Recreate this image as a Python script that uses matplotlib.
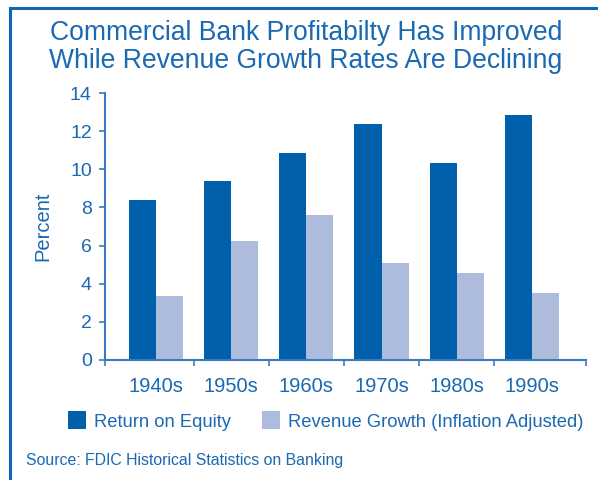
import matplotlib
matplotlib.use("Agg")
import matplotlib.pyplot as plt
from matplotlib.lines import Line2D
from matplotlib.patches import Patch
import numpy as np

plt.rcParams['font.family'] = ['Liberation Sans', 'DejaVu Sans']

categories = ["1940s", "1950s", "1960s", "1970s", "1980s", "1990s"]
roe = [8.4, 9.4, 10.85, 12.4, 10.35, 12.85]
revenue_growth = [3.35, 6.25, 7.6, 5.1, 4.55, 3.5]
series_names = ["Return on Equity", "Revenue Growth (Inflation Adjusted)"]
y_ticks = [0, 2, 4, 6, 8, 10, 12, 14]
title = "Commercial Bank Profitabilty Has Improved\nWhile Revenue Growth Rates Are Declining"
source = "Source: FDIC Historical Statistics on Banking"

TXT = "#1a69b2"
DARK = "#0060ab"
LIGHT = "#adbcdd"
AXC = "#3a7bbf"

fig = plt.figure(figsize=(5.98, 4.8), dpi=100)
ax = fig.add_axes([105/598, 120/480, 481/598, 267/480])

x = np.arange(len(categories))
w = 0.36
ax.bar(x - w/2, roe, width=w, color=DARK, label=series_names[0])
ax.bar(x + w/2, revenue_growth, width=w, color=LIGHT, label=series_names[1])

ax.set_xlim(-0.678, 5.72)
ax.set_ylim(0, 14)
ax.set_yticks(y_ticks)
ax.set_yticklabels([str(v) for v in y_ticks], fontsize=14, color=TXT)
ax.set_xticks([-0.678, 0.5, 1.5, 2.5, 3.5, 4.5, 5.72])
ax.set_xticklabels([])
ax.set_xticks(x, minor=True)
ax.set_xticklabels(categories, minor=True, fontsize=14.5, color=TXT)
ax.tick_params(axis='x', which='minor', length=0, pad=12)
ax.tick_params(axis='x', which='major', length=4, width=1.2, color=AXC, direction='out')
ax.tick_params(axis='y', length=4.5, width=1.2, color=AXC, direction='out', pad=5)

for s in ['top', 'right']:
    ax.spines[s].set_visible(False)
for s in ['left', 'bottom']:
    ax.spines[s].set_color(AXC)
    ax.spines[s].set_linewidth(1.5)

ax.set_ylabel("Percent", fontsize=14.5, color=TXT, labelpad=13)

fig.text(306/598, 1 - 47/480, title, ha='center', va='center', fontsize=19.1,
         color=TXT, linespacing=1.12)

handles = [Patch(facecolor=DARK), Patch(facecolor=LIGHT)]
fig.legend(handles, series_names, loc='center', bbox_to_anchor=(326/598, 1 - 421/480),
           ncol=2, frameon=False, fontsize=13.2, labelcolor=TXT,
           handlelength=0.95, handleheight=1.1, handletextpad=0.45, columnspacing=1.7)

fig.text(26/598, 1 - 461/480, source, ha='left', va='center', fontsize=11.4, color=TXT)

# frame
fig.add_artist(Line2D([10/598, 10/598], [0, 1 - 8/480], transform=fig.transFigure,
                      color="#1166b0", lw=2.2))
fig.add_artist(Line2D([10/598, 1], [1 - 8/480, 1 - 8/480], transform=fig.transFigure,
                      color="#1166b0", lw=2.2))

fig.savefig("out.png", dpi=100)
